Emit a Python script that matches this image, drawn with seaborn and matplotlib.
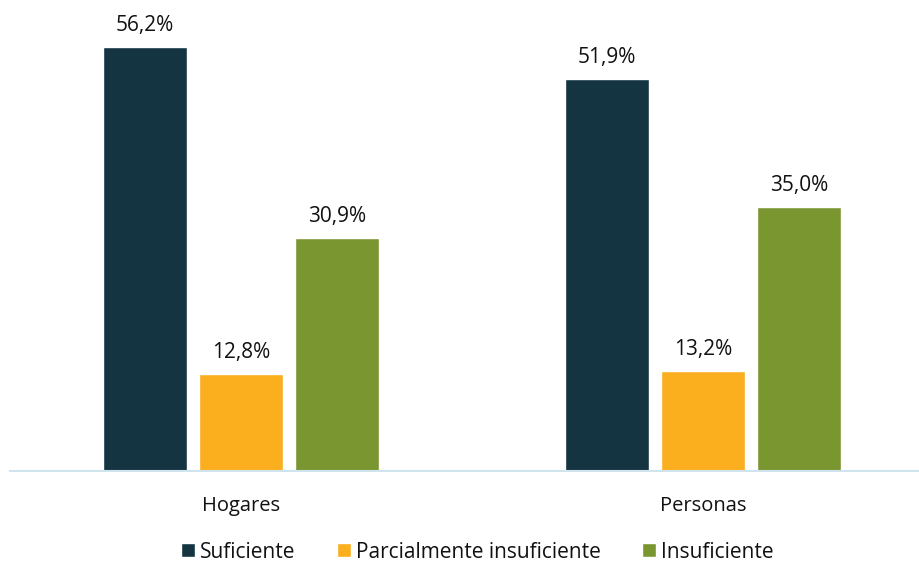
import matplotlib
matplotlib.use("Agg")
import matplotlib.pyplot as plt
import seaborn as sns
import pandas as pd

groups = ["Hogares", "Personas"]
levels = ["Suficiente", "Parcialmente insuficiente", "Insuficiente"]
suficiente = [56.2, 51.9]
parcial = [12.8, 13.2]
insuficiente = [30.9, 35.0]
colors = ["#153441", "#FBAE1E", "#7A9631"]

df = pd.DataFrame({
    "grupo": groups * 3,
    "nivel": [levels[0]] * 2 + [levels[1]] * 2 + [levels[2]] * 2,
    "valor": suficiente + parcial + insuficiente,
})

sns.set_style("white")
plt.rcParams['font.family'] = ['Open Sans', 'DejaVu Sans']

fig = plt.figure(figsize=(9.2, 5.67), dpi=100)
ax = fig.add_axes([0.0109, 0.1693, 0.9891, 0.8307])
sns.barplot(data=df, x="grupo", y="valor", hue="nivel", hue_order=levels,
            palette=colors, saturation=1, width=0.623, gap=0.125, ax=ax, legend=True)

for cont in ax.containers:
    ax.bar_label(cont, labels=[f"{v:.1f}%".replace(".", ",") for v in cont.datavalues],
                 padding=8, fontsize=15, color="#111111")

ax.set_xlim(-0.5, 1.47)
ax.set_ylim(0, 62.4)
ax.set_xlabel("")
ax.set_ylabel("")
ax.set_yticks([])
ax.tick_params(axis="x", length=0, labelsize=14.5, pad=18, colors="#111111")
for s in ["top", "right", "left"]:
    ax.spines[s].set_visible(False)
ax.spines["bottom"].set_color("#D0E4EE")
ax.spines["bottom"].set_linewidth(1.5)

handles, labels = ax.get_legend_handles_labels()
ax.legend_.remove()
leg = fig.legend(handles, labels, loc="center", bbox_to_anchor=(0.519, 0.026), ncol=3,
                 frameon=False, fontsize=15, handlelength=0.65, handleheight=0.65,
                 handletextpad=0.25, columnspacing=2.0, borderpad=0.1)
for t in leg.get_texts():
    t.set_color("#111111")

fig.savefig("out.png", dpi=100)
